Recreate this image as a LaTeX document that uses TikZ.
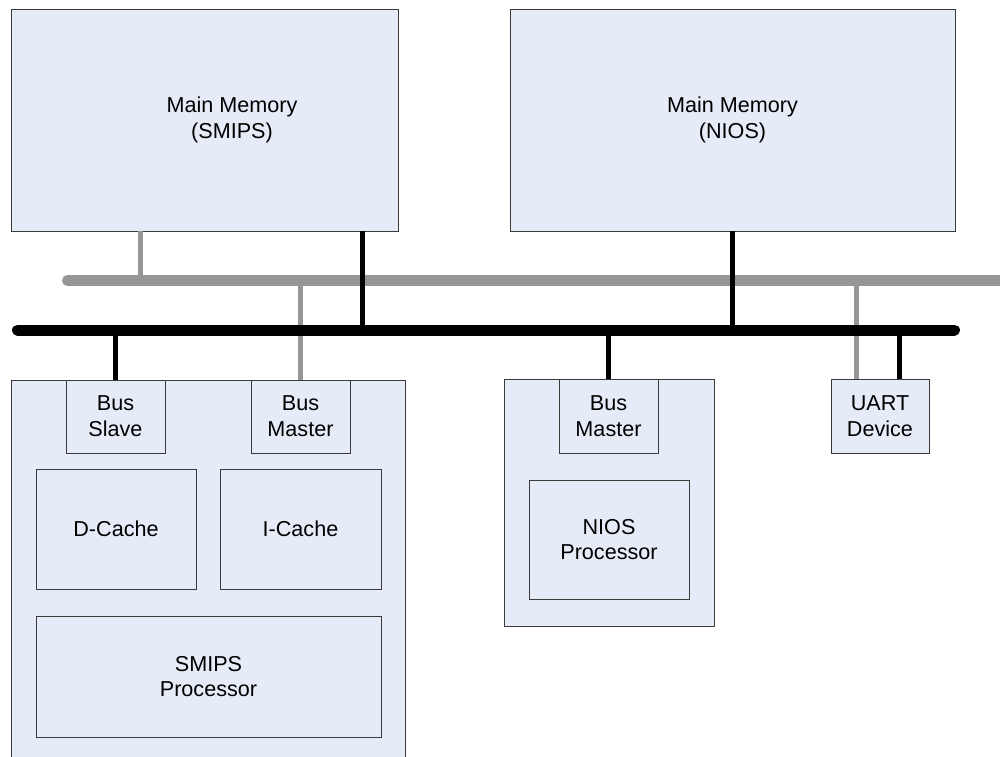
\documentclass[tikz,border=0pt]{standalone}
\usepackage{fontspec}
\setmainfont{Liberation Sans}
\usetikzlibrary{calc}
\definecolor{boxfill}{RGB}{230,236,247}
\definecolor{boxline}{RGB}{58,58,58}
\definecolor{busgray}{RGB}{150,150,150}
\begin{document}
\begin{tikzpicture}[x=0.75pt,y=-0.75pt,
  blk/.style 2 args={draw=boxline, fill=boxfill, line width=0.75pt, inner sep=0pt, outer sep=0pt,
    minimum width=#1*0.75pt, minimum height=#2*0.75pt, align=center,
    font=\fontsize{16.2}{19.3}\selectfont},
  lbl/.style={inner sep=0pt, align=center, font=\fontsize{16.2}{19.3}\selectfont},
  graybus/.style={draw=busgray, line width=8.25pt, line cap=round},
  blackbus/.style={draw=black, line width=8.25pt, line cap=round},
  graydrop/.style={draw=busgray, line width=3.75pt},
  blackdrop/.style={draw=black, line width=3.75pt}]
\useasboundingbox (0,0) rectangle (1000,757);
\clip (0,0) rectangle (1000,757);

% memories
\node[blk={387}{222}] (mms) at (204.5,120) {};
\node[lbl] (mmstext) at (232,120) {Main Memory\\(SMIPS)};
\node[blk={445}{222}] (mmn) at (732.5,120) {Main Memory\\(NIOS)};

% SMIPS processor block
\node[blk={394}{420}] (smips) at (208,590) {};
\node[blk={99}{73}] (bslave) at (115.5,416.5) {Bus\\Slave};
\node[blk={99}{73}] (bmaster) at (300.5,416.5) {Bus\\Master};
\node[blk={160}{120}] (dcache) at (116,529) {D-Cache};
\node[blk={161}{120}] (icache) at (300.5,529) {I-Cache};
\node[blk={345}{121}] (sproc) at (208.5,676.5) {SMIPS\\Processor};

% NIOS processor block
\node[blk={210}{247}] (nios) at (609,502.5) {};
\node[blk={99}{74}] (nmaster) at (608.5,416) {Bus\\Master};
\node[blk={160}{119}] (nproc) at (609,539.5) {NIOS\\Processor};

% UART
\node[blk={98}{74}] (uart) at (880,416) {UART\\Device};

% buses
\coordinate (gbL) at (67.5,280.5);
\coordinate (gbR) at (1010,280.5);
\coordinate (bbL) at (17.5,330);
\coordinate (bbR) at (954.5,330);

% gray drops and gray bus
\draw[graydrop] ($(mms.south west)+(129,0)$) coordinate (g1) -- (g1 |- gbL);
\draw[graydrop] (bmaster.north) -- (bmaster.north |- gbL);
\draw[graydrop] ($(uart.north west)+(25,0)$) coordinate (g3) -- (g3 |- gbL);
\draw[graybus] (gbL) -- (gbR);

% black drops and black bus
\draw[blackdrop] ($(mms.south west)+(351,0)$) coordinate (b1) -- (b1 |- bbL);
\draw[blackdrop] (mmn.south) -- (mmn.south |- bbL);
\draw[blackdrop] (bslave.north) -- (bslave.north |- bbL);
\draw[blackdrop] (nmaster.north) -- (nmaster.north |- bbL);
\draw[blackdrop] ($(uart.north west)+(68,0)$) coordinate (b5) -- (b5 |- bbL);
\draw[blackbus] (bbL) -- (bbR);
\end{tikzpicture}
\end{document}
